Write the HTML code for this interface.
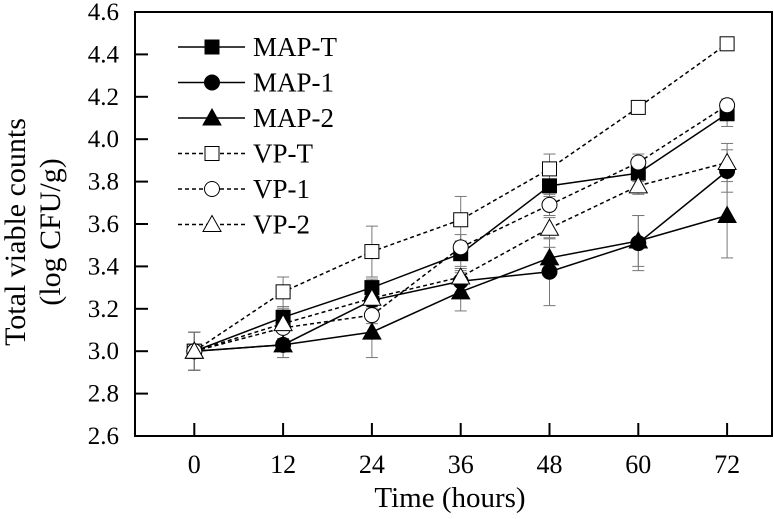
<!DOCTYPE html>
<html><head><meta charset="utf-8"><style>
body{margin:0;background:#fff;}
svg{display:block;font-family:"Liberation Serif",serif;}
</style></head><body>
<svg id="c" width="774" height="519" viewBox="0 0 774 519"></svg>
<script>
const times=[0,12,24,36,48,60,72];
const yTicks=[2.6,2.8,3.0,3.2,3.4,3.6,3.8,4.0,4.2,4.4,4.6];
const mapT=[3.0,3.16,3.30,3.46,3.78,3.84,4.12];
const map1=[3.0,3.03,3.24,3.33,3.375,3.51,3.85];
const map2=[3.0,3.03,3.09,3.28,3.44,3.52,3.64];
const vpT=[3.0,3.28,3.47,3.62,3.86,4.15,4.45];
const vp1=[3.0,3.11,3.17,3.49,3.69,3.89,4.16];
const vp2=[3.0,3.13,3.25,3.35,3.58,3.78,3.89];
const errMapT=[0.09,0.05,0.04,0.06,0.05,0.04,0.06];
const errMap1=[0.09,0.06,0.05,0.05,0.16,0.13,0.1];
const errMap2=[0.09,0.06,0.12,0.09,0.05,0.12,0.2];
const errVpT=[0.09,0.07,0.12,0.11,0.07,0.02,0.02];
const errVp1=[0.09,0.05,0.04,0.06,0.05,0.04,0.03];
const errVp2=[0.09,0.07,0.05,0.04,0.05,0.04,0.09];
const series=[
 {name:"MAP-T",v:mapT,e:errMapT,m:"sq",fill:"#000",dash:""},
 {name:"MAP-1",v:map1,e:errMap1,m:"ci",fill:"#000",dash:""},
 {name:"MAP-2",v:map2,e:errMap2,m:"tr",fill:"#000",dash:""},
 {name:"VP-T",v:vpT,e:errVpT,m:"sq",fill:"#fff",dash:"4,3"},
 {name:"VP-1",v:vp1,e:errVp1,m:"ci",fill:"#fff",dash:"4,3"},
 {name:"VP-2",v:vp2,e:errVp2,m:"tr",fill:"#fff",dash:"4,3"}
];
const L=135,R=772,T=12,B=436;
const X=t=>194.3+t*(88.8/12);
const Y=v=>B-(v-2.6)*212;
const svg=document.getElementById('c');
const NS="http://www.w3.org/2000/svg";
function mk(tag,at,parent){const e=document.createElementNS(NS,tag);for(const k in at)e.setAttribute(k,at[k]);(parent||svg).appendChild(e);return e;}
function marker(type,x,y,fill,g){
 if(type==="sq")return mk('rect',{x:x-7,y:y-7,width:14,height:14,fill:fill,stroke:'#000','stroke-width':1},g);
 if(type==="ci")return mk('circle',{cx:x,cy:y,r:7.5,fill:fill,stroke:'#000','stroke-width':1},g);
 return mk('polygon',{points:`${x},${y-9} ${x+9},${y+7} ${x-9},${y+7}`,fill:fill,stroke:'#000','stroke-width':1},g);
}
const frame=mk('rect',{x:L,y:T,width:R-L,height:B-T,fill:'none',stroke:'#000','stroke-width':2});


yTicks.forEach(v=>{
 const y=Y(v);
 const t=mk('line',{x1:L,x2:L+13,y1:y,y2:y,stroke:'#000','stroke-width':2});
 
 
 const l=mk('text',{x:119,y:y+8,'text-anchor':'end','font-size':25});
 l.textContent=v.toFixed(1);
 
 
});
times.forEach(t=>{
 const x=X(t);
 const k=mk('line',{x1:x,x2:x,y1:B,y2:B-13,stroke:'#000','stroke-width':2});
 
 
 const l=mk('text',{x:x,y:473,'text-anchor':'middle','font-size':26});
 l.textContent=t;
 
 
});
series.forEach(s=>{
 const g=mk('g',{});
 
 
 s.v.forEach((v,i)=>{
  const x=X(times[i]),y1=Y(v+s.e[i]),y2=Y(v-s.e[i]);
  mk('line',{x1:x,x2:x,y1:y1,y2:y2,stroke:'#777','stroke-width':1},g);
  mk('line',{x1:x-6,x2:x+6,y1:y1,y2:y1,stroke:'#777','stroke-width':1},g);
  mk('line',{x1:x-6,x2:x+6,y1:y2,y2:y2,stroke:'#777','stroke-width':1},g);
 });
});
series.forEach(s=>{
 const g=mk('g',{});
 
 
 mk('polyline',{points:s.v.map((v,i)=>X(times[i])+','+Y(v)).join(' '),fill:'none',stroke:'#000','stroke-width':1.5,'stroke-dasharray':s.dash},g);
 s.v.forEach((v,i)=>{
  const m=marker(s.m,X(times[i]),Y(v),s.fill,g);
  
  
 });
});
series.forEach((s,i)=>{
 const y=47+i*35.5;
 const g=mk('g',{});
 
 
 mk('line',{x1:178,x2:245,y1:y,y2:y,stroke:'#000','stroke-width':1.5,'stroke-dasharray':s.dash},g);
 marker(s.m,212,y,s.fill,g);
 const t=mk('text',{x:253,y:y+9,'font-size':27},g);
 t.textContent=s.name;
});
const xt=mk('text',{x:450,y:507,'text-anchor':'middle','font-size':29});
xt.textContent="Time (hours)";


const yt1=mk('text',{transform:'translate(25,232) rotate(-90)','text-anchor':'middle','font-size':30});
yt1.textContent="Total viable counts";


const yt2=mk('text',{transform:'translate(60,232) rotate(-90)','text-anchor':'middle','font-size':30});
yt2.textContent="(log CFU/g)";


</script>
</body></html>
